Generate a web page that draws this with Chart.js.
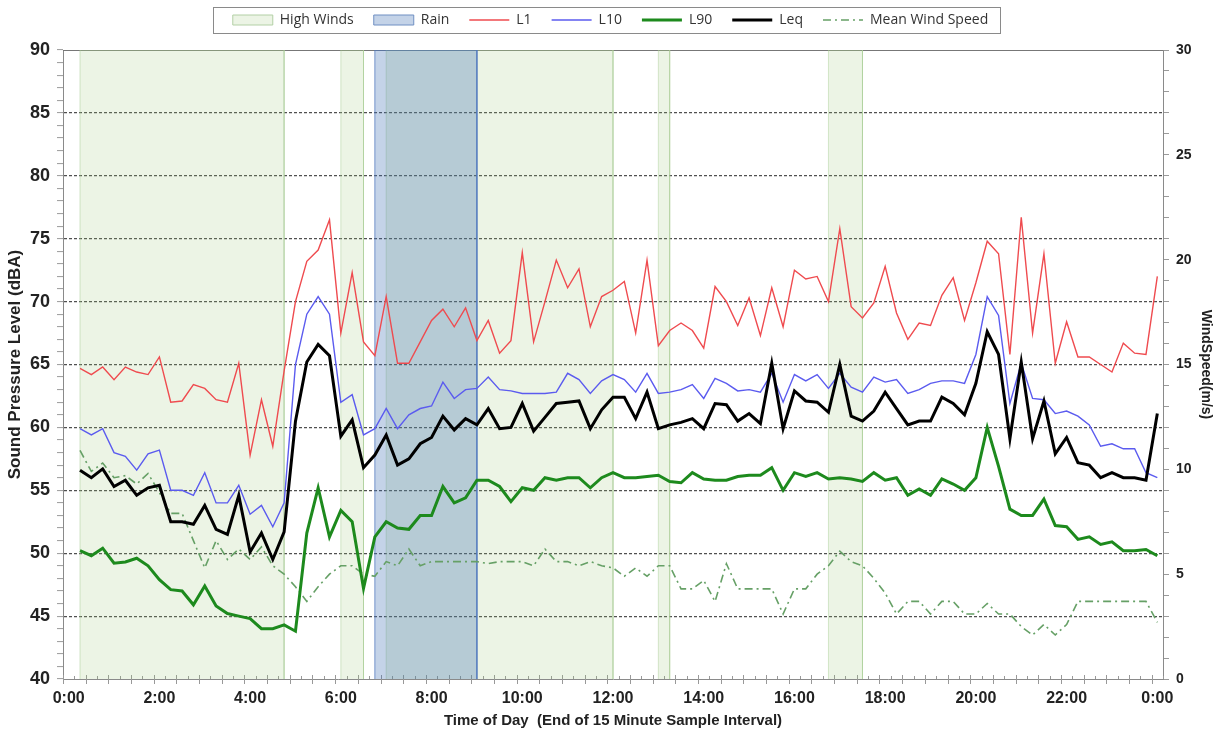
<!DOCTYPE html>
<html>
<head>
<meta charset="utf-8">
<title>Sound Pressure Level and Wind Speed</title>
<script src="https://cdn.jsdelivr.net/npm/chart.js@4.4.1/dist/chart.umd.min.js"></script>
<style>
  html, body { margin: 0; padding: 0; background: #fff; }
  #wrap { width: 1221px; height: 739px; position: relative; }
</style>
</head>
<body>
<div id="wrap"><canvas id="noiseChart"></canvas></div>
<script>
// 15 minute samples, 0:15 .. 24:00 (96 intervals)
const L1 = [64.7, 64.2, 64.8, 63.8, 64.8, 64.4, 64.2, 65.6, 62.0, 62.1, 63.4, 63.1, 62.2, 62.0, 65.1, 57.8,
  62.2, 58.5, 64.5, 70.0, 73.2, 74.1, 76.5, 67.5, 72.3, 66.8, 65.7, 70.4, 65.1, 65.1, 66.8, 68.5,
  69.4, 68.0, 69.5, 66.9, 68.5, 65.9, 66.9, 73.9, 66.8, 70.0, 73.3, 71.1, 72.6, 68.0, 70.4, 70.9,
  71.6, 67.5, 73.3, 66.5, 67.7, 68.3, 67.7, 66.3, 71.2, 70.0, 68.1, 70.3, 67.3, 71.1, 68.0, 72.5,
  71.8, 72.0, 70.0, 75.8, 69.6, 68.7, 69.9, 72.8, 69.1, 67.0, 68.3, 68.1, 70.5, 71.9, 68.5, 71.5,
  74.8, 73.8, 65.8, 76.7, 67.5, 73.8, 65.1, 68.4, 65.6, 65.6, 65.0, 64.4, 66.7, 65.9, 65.8, 72.0];

const L10 = [59.9, 59.4, 59.9, 58.0, 57.7, 56.6, 57.9, 58.2, 55.0, 55.0, 54.6, 56.4, 54.0, 54.0, 55.4, 53.1,
  53.8, 52.1, 54.0, 65.0, 69.0, 70.4, 69.0, 62.0, 62.6, 59.4, 59.9, 61.5, 59.9, 61.0, 61.5, 61.7,
  63.6, 62.3, 63.0, 63.1, 64.0, 63.0, 62.9, 62.7, 62.7, 62.7, 62.8, 64.3, 63.8, 62.7, 63.7, 64.2,
  63.8, 62.8, 64.3, 62.7, 62.8, 63.0, 63.4, 62.3, 63.9, 63.5, 62.9, 63.0, 62.8, 64.3, 62.0, 64.2,
  63.7, 64.2, 63.1, 64.3, 63.2, 62.8, 64.0, 63.6, 63.8, 62.7, 63.0, 63.5, 63.7, 63.7, 63.5, 65.8,
  70.4, 68.9, 61.9, 65.1, 62.3, 62.2, 61.1, 61.3, 60.9, 60.2, 58.5, 58.7, 58.3, 58.3, 56.4, 56.0];

const L90 = [50.2, 49.8, 50.4, 49.2, 49.3, 49.6, 49.0, 47.9, 47.1, 47.0, 45.9, 47.4, 45.8, 45.2, 45.0, 44.8,
  44.0, 44.0, 44.3, 43.8, 51.6, 55.2, 51.3, 53.4, 52.5, 47.2, 51.3, 52.5, 52.0, 51.9, 53.0, 53.0,
  55.3, 54.0, 54.4, 55.8, 55.8, 55.3, 54.1, 55.2, 55.0, 56.0, 55.8, 56.0, 56.0, 55.2, 56.0, 56.4,
  56.0, 56.0, 56.1, 56.2, 55.7, 55.6, 56.4, 55.9, 55.8, 55.8, 56.1, 56.2, 56.2, 56.8, 55.0, 56.4,
  56.1, 56.4, 55.9, 56.0, 55.9, 55.7, 56.4, 55.8, 56.0, 54.6, 55.1, 54.6, 55.9, 55.5, 55.0, 56.0,
  60.0, 56.9, 53.5, 53.0, 53.0, 54.3, 52.2, 52.1, 51.1, 51.3, 50.7, 50.9, 50.2, 50.2, 50.3, 49.8];

const Leq = [56.6, 56.0, 56.7, 55.3, 55.8, 54.6, 55.2, 55.4, 52.5, 52.5, 52.3, 53.8, 51.9, 51.5, 54.6, 50.1,
  51.6, 49.5, 51.7, 60.5, 65.2, 66.6, 65.7, 59.3, 60.6, 56.8, 57.8, 59.4, 57.0, 57.5, 58.7, 59.2,
  60.9, 59.8, 60.7, 60.2, 61.5, 59.9, 60.0, 61.9, 59.7, 60.8, 61.9, 62.0, 62.1, 59.9, 61.4, 62.4,
  62.4, 60.7, 62.8, 59.9, 60.2, 60.4, 60.7, 59.9, 61.9, 61.8, 60.5, 61.1, 60.3, 65.1, 59.9, 62.9,
  62.1, 62.0, 61.2, 65.0, 60.9, 60.5, 61.3, 62.8, 61.5, 60.2, 60.5, 60.5, 62.4, 61.9, 61.0, 63.5,
  67.6, 65.8, 59.1, 65.2, 59.1, 62.1, 57.9, 59.2, 57.2, 57.0, 56.0, 56.4, 56.0, 56.0, 55.8, 61.1];

const windSpeed = [10.9, 9.9, 10.3, 9.6, 9.7, 9.3, 9.8, 8.9, 7.9, 7.9, 6.6, 5.3, 6.6, 5.7, 6.2, 5.7,
  6.3, 5.4, 5.0, 4.4, 3.7, 4.4, 5.0, 5.4, 5.4, 5.0, 4.9, 5.6, 5.4, 6.2, 5.4, 5.6,
  5.6, 5.6, 5.6, 5.6, 5.5, 5.6, 5.6, 5.6, 5.4, 6.2, 5.6, 5.6, 5.4, 5.6, 5.4, 5.3,
  4.9, 5.3, 4.9, 5.4, 5.4, 4.3, 4.3, 4.7, 3.7, 5.5, 4.3, 4.3, 4.3, 4.3, 3.1, 4.3,
  4.3, 5.0, 5.4, 6.1, 5.6, 5.4, 4.8, 4.1, 3.1, 3.7, 3.7, 3.1, 3.7, 3.7, 3.1, 3.1,
  3.6, 3.1, 3.1, 2.5, 2.1, 2.6, 2.1, 2.6, 3.7, 3.7, 3.7, 3.7, 3.7, 3.7, 3.7, 2.7];

// [start, end] in hours of day
const highWindPeriods = [[0.25, 4.75], [6.0, 6.5], [7.0, 12.0], [13.0, 13.25], [16.75, 17.5]];
const rainPeriods = [[6.75, 9.0]];

const hourTicks = [0, 2, 4, 6, 8, 10, 12, 14, 16, 18, 20, 22, 24];
const dbaMin = 40, dbaMax = 90;
const windMin = 0, windMax = 30;

// end of each 15 minute interval, in hours
const sampleTimes = L1.map((_, i) => (i + 1) * 0.25);

const fontFamily = '"Liberation Sans", Arial, sans-serif';

function periodBoxes(periods) {
  const pts = [];
  periods.forEach(([s, e]) => {
    pts.push({ x: s, y: dbaMin }, { x: s, y: dbaMax }, { x: e, y: dbaMax }, { x: e, y: dbaMin }, { x: e, y: null });
  });
  return pts;
}

function unitTicks(lo, hi) {
  const t = [];
  for (let v = lo; v <= hi; v++) t.push({ value: v });
  return t;
}

// x tick marks on the 15 minute boundaries + solid top border
const axisMarks = {
  id: 'axisMarks',
  beforeDatasetsDraw(chart) {
    const { ctx, chartArea: a, scales: { x } } = chart;
    ctx.save();
    ctx.strokeStyle = '#777';
    ctx.lineWidth = 1;
    ctx.beginPath();
    ctx.moveTo(a.left, a.top + 0.5);
    ctx.lineTo(a.right, a.top + 0.5);
    ctx.stroke();
    ctx.strokeStyle = '#999';
    const n = Math.round((x.max - x.min) / 0.25);
    for (let i = 0; i <= n; i++) {
      const px = Math.round(x.getPixelForValue(x.min + i * 0.25)) + 0.5;
      ctx.beginPath();
      ctx.moveTo(px, a.bottom - (i % 2 ? 3 : 4));
      ctx.lineTo(px, a.bottom + (i % 2 ? 0 : 5));
      ctx.stroke();
    }
    ctx.restore();
  }
};

// legend: fixed height, moved up a little and framed
const legendFrame = {
  id: 'legendFrame',
  afterInit(chart) {
    const legend = chart.legend;
    const fit = legend.fit;
    legend.fit = function () { fit.call(this); this.height = 50; };
    const draw = legend.draw;
    legend.draw = function () {
      const ctx = this.ctx;
      const boxes = this.legendHitBoxes || [];
      if (boxes.length) {
        const l = Math.min(...boxes.map(b => b.left)) - 20;
        const r = Math.max(...boxes.map(b => b.left + b.width)) + 12;
        const t = boxes[0].top - 7 - 6;
        ctx.save();
        ctx.strokeStyle = '#8a8a8a';
        ctx.lineWidth = 1;
        ctx.strokeRect(Math.round(l) + 0.5, Math.round(t) + 0.5, Math.round(r - l), 26);
        ctx.restore();
      }
      ctx.save();
      ctx.translate(0, -7);
      draw.call(this);
      ctx.restore();
    };
  }
};

const ctx = document.getElementById('noiseChart').getContext('2d');
new Chart(ctx, {
  type: 'line',
  data: {
    labels: sampleTimes,
    datasets: [
      {
        label: 'High Winds', data: periodBoxes(highWindPeriods), yAxisID: 'y',
        backgroundColor: 'rgba(150, 195, 110, 0.18)', borderColor: 'rgba(170, 205, 150, 0.5)', borderWidth: 1,
        fill: 'start', spanGaps: false, pointRadius: 0, order: 7,
        legendStyle: 'rect', legendFill: 'rgba(150, 195, 110, 0.18)', legendStroke: '#b3d0a5'
      },
      {
        label: 'Rain', data: periodBoxes(rainPeriods), yAxisID: 'y',
        backgroundColor: 'rgba(60, 110, 180, 0.30)', borderColor: 'rgba(80, 120, 190, 0.8)', borderWidth: 1,
        fill: 'start', spanGaps: false, pointRadius: 0, order: 6,
        legendStyle: 'rect', legendFill: 'rgba(60, 110, 180, 0.30)', legendStroke: '#6f8fc2'
      },
      {
        label: 'L1', data: L1, yAxisID: 'y', borderColor: '#ef4b4f', borderWidth: 1.4,
        pointRadius: 0, tension: 0, fill: false, order: 4, legendStyle: 'line'
      },
      {
        label: 'L10', data: L10, yAxisID: 'y', borderColor: '#5b5bef', borderWidth: 1.4,
        pointRadius: 0, tension: 0, fill: false, order: 3, legendStyle: 'line'
      },
      {
        label: 'L90', data: L90, yAxisID: 'y', borderColor: '#1d8a1d', borderWidth: 3,
        pointRadius: 0, tension: 0, fill: false, order: 2, legendStyle: 'line'
      },
      {
        label: 'Leq', data: Leq, yAxisID: 'y', borderColor: '#000000', borderWidth: 3,
        pointRadius: 0, tension: 0, fill: false, order: 1, legendStyle: 'line'
      },
      {
        label: 'Mean Wind Speed', data: windSpeed, yAxisID: 'y2', borderColor: '#66a066', borderWidth: 1.6,
        borderDash: [8, 4, 2, 4], pointRadius: 0, tension: 0, fill: false, order: 5, legendStyle: 'line'
      }
    ]
  },
  options: {
    responsive: true,
    maintainAspectRatio: false,
    animation: false,
    layout: { padding: 0 },
    plugins: {
      tooltip: { enabled: false },
      legend: {
        position: 'top',
        labels: {
          usePointStyle: true,
          pointStyleWidth: 40,
          boxHeight: 10,
          padding: 20,
          color: '#333',
          font: { family: '"Open Sans", sans-serif', size: 14 },
          generateLabels: chart => chart.data.datasets.map((ds, i) => ({
            text: ds.label,
            datasetIndex: i,
            pointStyle: ds.legendStyle,
            fillStyle: ds.legendFill || 'rgba(0,0,0,0)',
            strokeStyle: ds.legendStroke || ds.borderColor,
            lineWidth: ds.legendStyle === 'rect' ? 1 : ds.borderWidth,
            lineDash: ds.borderDash || [],
            fontColor: '#333',
            hidden: false
          }))
        }
      }
    },
    scales: {
      x: {
        type: 'linear',
        min: -0.125,
        max: 24.125,
        afterBuildTicks: s => { s.ticks = hourTicks.map(v => ({ value: v })); },
        afterFit: s => { s.height = 60; },
        grid: { display: false, drawTicks: false },
        border: { display: true, color: '#8a8a8a' },
        ticks: {
          autoSkip: false, maxRotation: 0, padding: 10, color: '#222',
          font: { family: fontFamily, size: 16, weight: 'bold' },
          callback: v => (v % 24) + ':00'
        },
        title: {
          display: true, text: 'Time of Day  (End of 15 Minute Sample Interval)', color: '#222',
          font: { family: fontFamily, size: 15, weight: 'bold' }, padding: { top: 0, bottom: 9 }
        }
      },
      y: {
        position: 'left',
        min: dbaMin,
        max: dbaMax,
        afterBuildTicks: s => { s.ticks = unitTicks(dbaMin, dbaMax); },
        afterFit: s => { s.width = 63; },
        grid: {
          color: c => (c.tick && c.tick.value % 5 === 0 && c.tick.value > dbaMin && c.tick.value < dbaMax) ? '#505050' : 'rgba(0,0,0,0)',
          lineWidth: 1.2, tickLength: 6, tickColor: '#9a9a9a', tickWidth: 1
        },
        border: { display: true, color: '#8a8a8a', dash: [3, 2] },
        ticks: {
          autoSkip: false, padding: 7, color: '#222',
          font: { family: fontFamily, size: 18, weight: 'bold' },
          callback: v => (v % 5 === 0 ? String(v) : '')
        },
        title: {
          display: true, text: 'Sound Pressure Level (dBA)', color: '#222',
          font: { family: fontFamily, size: 17, weight: 'bold' }, padding: { top: 5, bottom: 0 }
        }
      },
      y2: {
        position: 'right',
        min: windMin,
        max: windMax,
        afterBuildTicks: s => { s.ticks = unitTicks(windMin, windMax); },
        afterFit: s => { s.width = 58; },
        grid: { drawOnChartArea: false, tickLength: 6, tickColor: '#9a9a9a', tickWidth: 1 },
        border: { display: true, color: '#8a8a8a' },
        ticks: {
          autoSkip: false, padding: 7, color: '#222',
          font: { family: fontFamily, size: 14, weight: 'bold' },
          callback: v => (v % 5 === 0 ? String(v) : '')
        },
        title: {
          display: true, text: 'WindSpeed(m/s)', color: '#222',
          font: { family: fontFamily, size: 14, weight: 'bold' }, padding: { top: 7, bottom: 0 }
        }
      }
    }
  },
  plugins: [axisMarks, legendFrame]
});
</script>
</body>
</html>
